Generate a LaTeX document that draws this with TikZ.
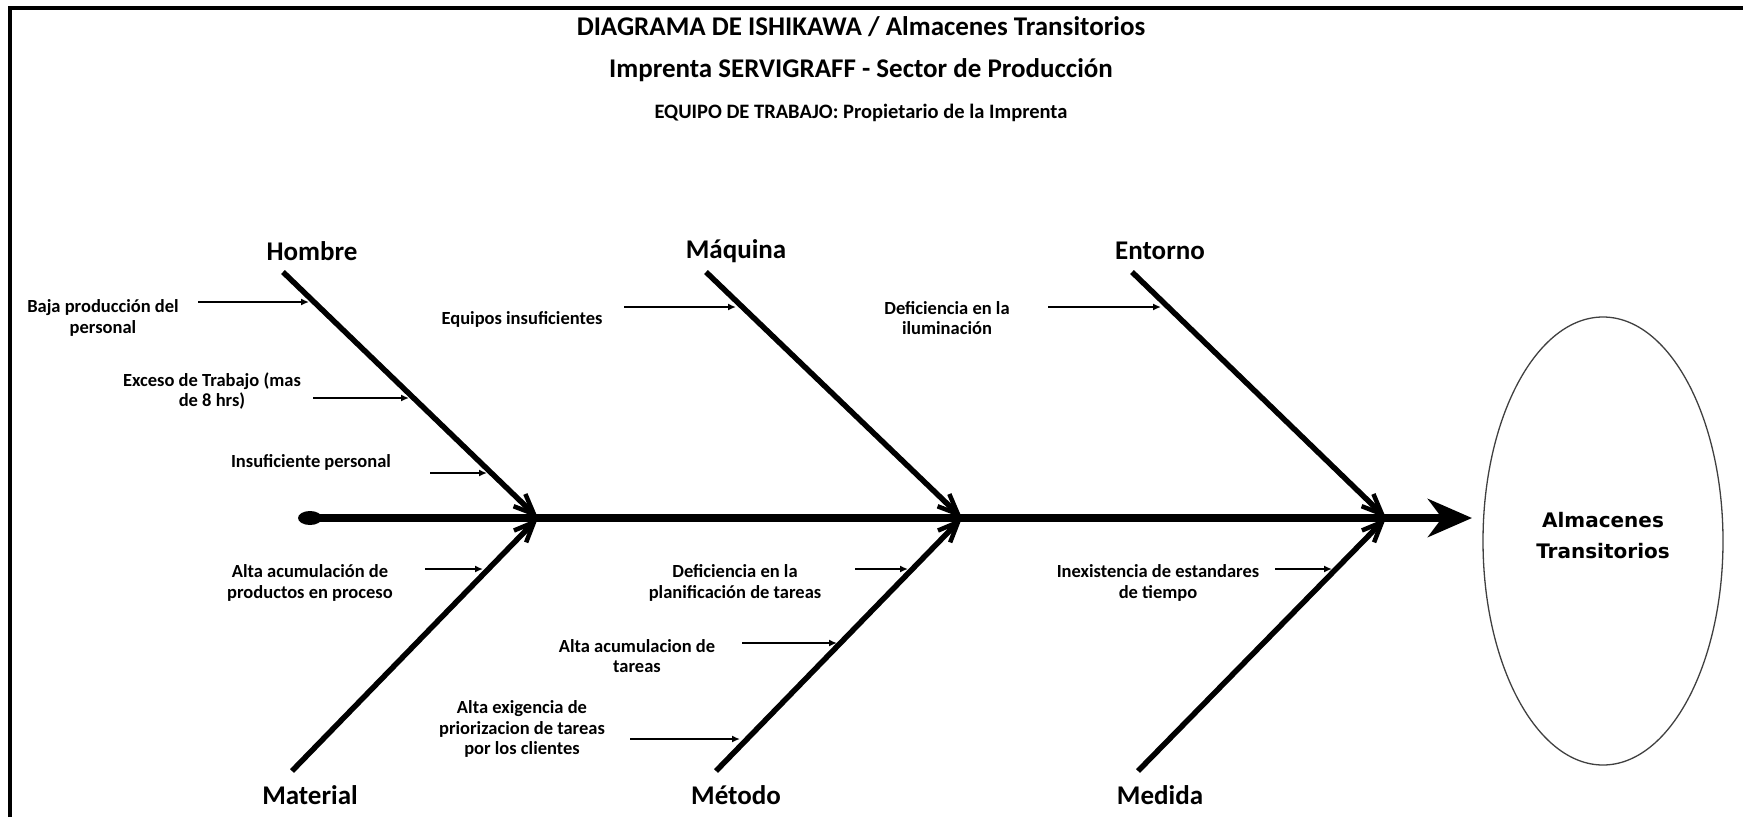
\documentclass[tikz,border=0pt]{standalone}
\usepackage{fontspec}
\setmainfont{Carlito}
\newfontfamily\effectfont{DejaVu Sans}
\usetikzlibrary{arrows.meta,shapes.geometric}
\begin{document}
\begin{tikzpicture}[x=1pt,y=-1pt,
  frameline/.style={line width=4pt},
  titletext/.style={font=\bfseries\fontsize{27}{32}\selectfont, inner sep=0pt},
  teamtext/.style={font=\bfseries\fontsize{20.5}{24}\selectfont, inner sep=0pt},
  category/.style={font=\bfseries\fontsize{27}{32}\selectfont, inner sep=0pt},
  cause/.style={font=\bfseries\fontsize{18.5}{20.5}\selectfont, align=center, inner sep=0pt},
  spine/.style={line width=8pt, -{Stealth[length=44pt,width=38pt,inset=14pt]}},
  bone/.style={line width=5.5pt, -{Straight Barb[length=20pt,width=17pt,line width=4.5pt]}},
  subcause/.style={line width=2pt, -{Latex[length=8pt,width=7pt]}},
  effectshape/.style={ellipse, draw=black!75, line width=1.3pt, minimum width=240pt, minimum height=448pt, inner sep=0pt},
  effecttext/.style={font=\effectfont\bfseries\fontsize{20}{31}\selectfont, align=center, inner sep=0pt}
]
\useasboundingbox (0,0) rectangle (1743,817);

% frame (top and left edges)
\draw[frameline] (10,817) -- (10,8) -- (1743,8);

% headings
\node[titletext] (t1) at (861,27) {DIAGRAMA DE ISHIKAWA / Almacenes Transitorios};
\node[titletext] (t2) at (861,70) {Imprenta SERVIGRAFF - Sector de Producción};
\node[teamtext]  (t3) at (861,113) {EQUIPO DE TRABAJO: Propietario de la Imprenta};

% effect
\node[effectshape] (effect) at (1603,541) {};
\node[effecttext] (effectlabel) at (1603,536) {Almacenes\\Transitorios};

% spine
\node[ellipse, fill=black, minimum width=24pt, minimum height=14pt, inner sep=0pt] (tail) at (310,518) {};
\coordinate (head) at (1472,518);
\draw[spine] (tail.center) -- (head);

% joints on the spine
\coordinate (j1) at (538,518);
\coordinate (j2) at (962,518);
\coordinate (j3) at (1386,518);

% category labels
\node[category] (hombre)   at (312,251) {Hombre};
\node[category] (maquina)  at (736,251) {Máquina};
\node[category] (entorno)  at (1160,251) {Entorno};
\node[category] (material) at (310,795) {Material};
\node[category] (metodo)   at (736,795) {Método};
\node[category] (medida)   at (1160,795) {Medida};

% bone ends
\coordinate (hs) at (283,272);
\coordinate (ms) at (706,272);
\coordinate (es) at (1132,272);
\coordinate (ls) at (292,771);
\coordinate (ts) at (716,771);
\coordinate (ds) at (1138,771);

\draw[bone] (hs) -- (j1);
\draw[bone] (ms) -- (j2);
\draw[bone] (es) -- (j3);
\draw[bone] (ls) -- (j1);
\draw[bone] (ts) -- (j2);
\draw[bone] (ds) -- (j3);

% causes
\node[cause] (c1) at (103,318) {Baja producción del\\personal};
\node[cause] (c2) at (212,391) {Exceso de Trabajo (mas\\de 8 hrs)};
\node[cause] (c3) at (311,462) {Insuficiente personal};
\node[cause] (c4) at (522,319) {Equipos insuficientes};
\node[cause] (c5) at (947,318) {Deficiencia en la\\iluminación};
\node[cause] (c6) at (310,583) {Alta acumulación de\\productos en proceso};
\node[cause] (c7) at (735,583) {Deficiencia en la\\planificación de tareas};
\node[cause] (c8) at (637,656) {Alta acumulacion de\\tareas};
\node[cause] (c9) at (522,729) {Alta exigencia de\\priorizacion de tareas\\por los clientes};
\node[cause] (c10) at (1158,583) {Inexistencia de estandares\\de tiempo};

% sub-cause arrows (tail and tip coordinates)
\coordinate (a1s) at (198,302);  \coordinate (a1e) at (309,302);
\coordinate (a2s) at (313,398);  \coordinate (a2e) at (409,398);
\coordinate (a3s) at (430,473);  \coordinate (a3e) at (487,473);
\coordinate (a4s) at (624,307);  \coordinate (a4e) at (736,307);
\coordinate (a5s) at (1048,307); \coordinate (a5e) at (1161,307);
\coordinate (a6s) at (425,569);  \coordinate (a6e) at (483,569);
\coordinate (a7s) at (855,569);  \coordinate (a7e) at (908,569);
\coordinate (a8s) at (742,643);  \coordinate (a8e) at (837,643);
\coordinate (a9s) at (630,739);  \coordinate (a9e) at (740,739);
\coordinate (a10s) at (1275,569); \coordinate (a10e) at (1332,569);

\foreach \i in {1,...,10} { \draw[subcause] (a\i s) -- (a\i e); }
\end{tikzpicture}
\end{document}
